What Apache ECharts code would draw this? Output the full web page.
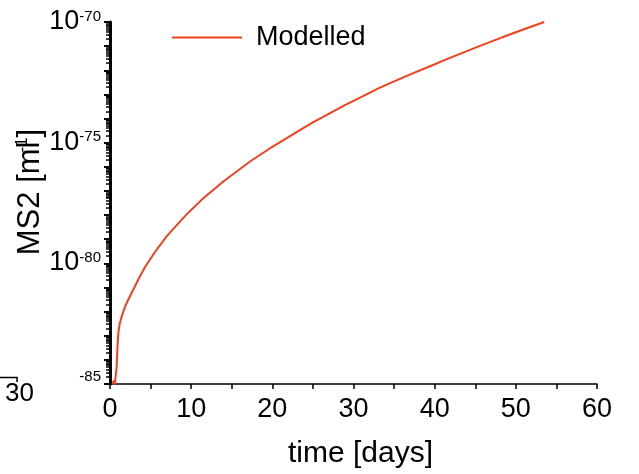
<!DOCTYPE html>
<html>
<head>
<meta charset="utf-8">
<script src="https://cdn.jsdelivr.net/npm/echarts@6/dist/echarts.min.js"></script>
<style>
  html, body { margin: 0; padding: 0; background: #fff; }
  #chart { width: 639px; height: 474px; }
</style>
</head>
<body>
<div id="chart"></div>
<script>
// Modelled MS2 concentration over time (log10 of ml^-1)
const timeDays = [0.3, 0.45, 0.6, 0.78, 0.82, 0.9, 1.02, 1.2, 1.44, 1.85, 2.26, 3.0, 3.6, 4.3, 5.5, 7.0, 8.0, 9.5,
  11.5, 14, 17.25, 20, 23.4, 25, 27, 29, 31.6, 33, 35, 37, 39.8, 41.5, 43.5, 45.5, 47.6, 49, 51, 53.5];
const log10Ms2 = [-85, -84.88, -85, -85, -84.3, -83.6, -82.9, -82.5, -82.2, -81.8, -81.5, -81.0, -80.6, -80.16, -79.55, -78.87, -78.5, -77.95,
  -77.3, -76.6, -75.78, -75.17, -74.48, -74.16, -73.8, -73.43, -73.0, -72.76, -72.46, -72.17, -71.78, -71.54, -71.27, -71.0, -70.73, -70.55, -70.3, -70.0];
const seriesName = 'Modelled';

const xTicks = [0, 10, 20, 30, 40, 50, 60];
const yDecadeMin = -85;
const yDecadeMax = -70;
const yLabelStep = 5;

// log-spaced minor ticks inside each decade (2..9)
const minorTicks = [];
for (let d = yDecadeMin; d < yDecadeMax; d++) {
  for (let k = 2; k <= 9; k++) minorTicks.push(d + Math.log10(k));
}

const FONT = "'Liberation Sans', Arial, Helvetica, sans-serif";
const RED = '#f2401f';

const chart = echarts.init(document.getElementById('chart'), null, { renderer: 'canvas' });

chart.setOption({
  backgroundColor: '#ffffff',
  animation: false,
  grid: { left: 110, right: 42, top: 22, bottom: 86 },
  legend: {
    data: [seriesName],
    left: 167,
    top: 19,
    icon: 'rect',
    itemWidth: 70,
    itemHeight: 2,
    textStyle: { fontFamily: FONT, fontSize: 27, color: '#000', padding: [0, 0, 0, 9] }
  },
  xAxis: {
    type: 'value',
    min: xTicks[0],
    max: xTicks[xTicks.length - 1],
    interval: 10,
    name: 'time [days]',
    nameLocation: 'middle',
    nameGap: 55,
    nameTextStyle: { fontFamily: FONT, fontSize: 30, color: '#000', padding: [0, 0, 0, 14] },
    axisLine: { onZero: false, lineStyle: { color: '#000', width: 1.5 } },
    axisTick: { inside: false, length: 5, lineStyle: { color: '#000', width: 1.5 } },
    minorTick: { show: true, splitNumber: 2, length: 5, lineStyle: { color: '#000', width: 1.5 } },
    axisLabel: { fontFamily: FONT, fontSize: 27, color: '#000', margin: 12 },
    splitLine: { show: false }
  },
  yAxis: [
    {
      type: 'value',
      min: yDecadeMin,
      max: yDecadeMax,
      interval: 1,
      position: 'left',
      name: '{t|MS2 [ml}{s|-1}{t|]}',
      nameLocation: 'middle',
      nameRotate: 90,
      nameGap: 64,
      nameMoveOverlap: false,
      nameTextStyle: {
        fontFamily: FONT, color: '#000', padding: [0, 0, 0, 22],
        rich: {
          t: { fontFamily: FONT, fontSize: 31, color: '#000', lineHeight: 32 },
          s: { fontFamily: FONT, fontSize: 17, color: '#000', verticalAlign: 'top', lineHeight: 17, padding: [0, 0, 0, -11] }
        }
      },
      axisLine: { lineStyle: { color: '#000', width: 3 } },
      axisTick: { inside: false, length: 6, lineStyle: { color: '#000', width: 2 } },
      axisLabel: {
        margin: 9,
        formatter: function (v) {
          if (Math.round(v) % yLabelStep !== 0) return '';
          if (v === yDecadeMin) return '{s2|' + v + '}';
          return '{b|10}{s|' + v + '}';
        },
        rich: {
          b: { fontFamily: FONT, fontSize: 27, color: '#000', lineHeight: 26, verticalAlign: 'bottom', padding: [5, 0, 0, 0] },
          s: { fontFamily: FONT, fontSize: 15, color: '#000', lineHeight: 15, verticalAlign: 'top' },
          s2: { fontFamily: FONT, fontSize: 15, color: '#000', lineHeight: 15, padding: [0, 0, 15, 0] }
        }
      },
      splitLine: { show: false }
    },
    {
      type: 'value',
      min: yDecadeMin,
      max: yDecadeMax,
      position: 'left',
      axisLine: { show: false },
      axisTick: { show: true, inside: false, length: 4, customValues: minorTicks, lineStyle: { color: '#000', width: 1.5 } },
      axisLabel: { show: false },
      splitLine: { show: false }
    }
  ],
  series: [
    {
      name: seriesName,
      type: 'line',
      yAxisIndex: 0,
      data: timeDays.map((t, i) => [t, log10Ms2[i]]),
      showSymbol: false,
      smooth: false,
      clip: true,
      lineStyle: { color: RED, width: 2, join: 'round' },
      itemStyle: { color: RED }
    }
  ],
  graphic: [
    // edge of the neighbouring panel's time axis
    { type: 'polyline', shape: { points: [[0, 377.5], [17, 377.5], [17, 382]] }, style: { stroke: '#000', lineWidth: 1.5, fill: null } },
    { type: 'text', left: 5, top: 381, style: { text: '30', fontFamily: FONT, fontSize: 26, fill: '#000' } }
  ]
});
</script>
</body>
</html>
